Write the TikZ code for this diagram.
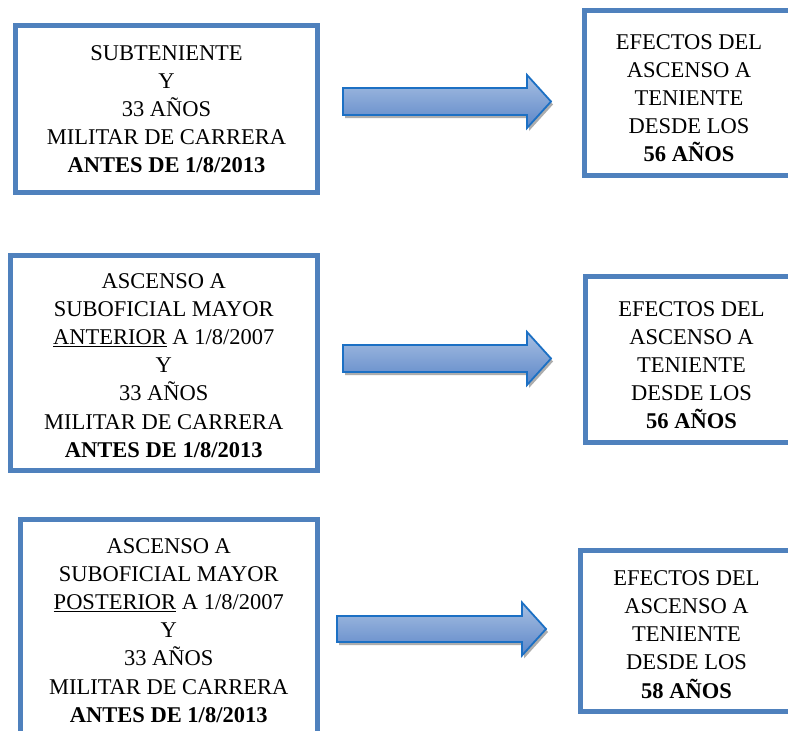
\documentclass[tikz,border=0pt]{standalone}
\usepackage{fontspec}
\setmainfont{Liberation Serif}
\usetikzlibrary{shadows}
\definecolor{boxblue}{RGB}{79,129,189}
\definecolor{arrowline}{RGB}{28,112,196}
\definecolor{arrowtop}{RGB}{168,192,226}
\definecolor{arrowbot}{RGB}{92,134,200}
\tikzset{
  box/.style={draw=boxblue, line width=5pt, fill=white, inner sep=0pt},
  boxtext/.style={align=center, font=\fontsize{22.5}{28.1}\selectfont, inner sep=0pt},
  blockarrow/.style={draw=arrowline, line width=1.8pt, line join=miter,
    top color=arrowtop, bottom color=arrowbot,
    drop shadow={shadow xshift=2pt, shadow yshift=-3pt, fill=black!32, opacity=1}}
}

\begin{document}
\begin{tikzpicture}[x=1pt,y=-1pt]
\clip (0,0) rectangle (788,731);
\fill[white] (0,0) rectangle (788,731);

\node[box, minimum width=302pt, minimum height=167pt] (cond1) at (166.5,109) {};
\node[boxtext] (cond1-txt) at (166.5,109) {SUBTENIENTE\\Y\\33 AÑOS\\MILITAR DE CARRERA\\\textbf{ANTES DE 1/8/2013}};

\node[box, minimum width=307.5pt, minimum height=215pt] (cond2) at (163.75,363) {};
\node[boxtext] (cond2-txt) at (163.75,365.5) {ASCENSO A\\SUBOFICIAL MAYOR\\\underline{ANTERIOR} A 1/8/2007\\Y\\33 AÑOS\\MILITAR DE CARRERA\\\textbf{ANTES DE 1/8/2013}};

\node[box, minimum width=297.5pt, minimum height=223pt] (cond3) at (168.75,630.5) {};
\node[boxtext] (cond3-txt) at (168.75,630.5) {ASCENSO A\\SUBOFICIAL MAYOR\\\underline{POSTERIOR} A 1/8/2007\\Y\\33 AÑOS\\MILITAR DE CARRERA\\\textbf{ANTES DE 1/8/2013}};

\node[box, minimum width=209pt, minimum height=165.5pt] (efec1) at (689,92.75) {};
\node[boxtext] (efec1-txt) at (689,98) {EFECTOS DEL\\ASCENSO A\\TENIENTE\\DESDE LOS\\\textbf{56 AÑOS}};

\node[box, minimum width=213pt, minimum height=166pt] (efec2) at (691.5,359) {};
\node[boxtext] (efec2-txt) at (691.5,365) {EFECTOS DEL\\ASCENSO A\\TENIENTE\\DESDE LOS\\\textbf{56 AÑOS}};

\node[box, minimum width=213pt, minimum height=161pt] (efec3) at (686.5,630.5) {};
\node[boxtext] (efec3-txt) at (686.5,634.5) {EFECTOS DEL\\ASCENSO A\\TENIENTE\\DESDE LOS\\\textbf{58 AÑOS}};

\draw[blockarrow] (343,88) -- (527,88) -- (527,75) -- (551,101.5) -- (527,128) -- (527,115) -- (343,115) -- cycle;
\draw[blockarrow] (343,345) -- (527,345) -- (527,332) -- (551,358.5) -- (527,385) -- (527,372) -- (343,372) -- cycle;
\draw[blockarrow] (337,616) -- (522,616) -- (522,602.5) -- (546,629) -- (522,655.5) -- (522,642) -- (337,642) -- cycle;
\end{tikzpicture}
\end{document}
